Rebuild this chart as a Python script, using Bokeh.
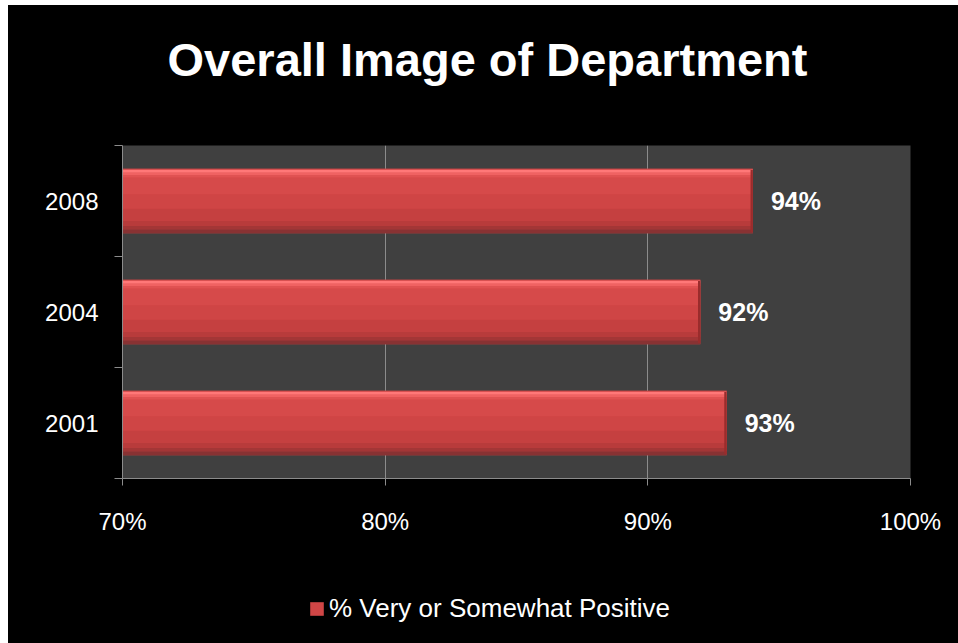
from bokeh.plotting import figure
from bokeh.layouts import column
from bokeh.models import (Range1d, FixedTicker, PrintfTickFormatter, Title, Legend,
                          LegendItem, ColumnDataSource, LabelSet)
from bokeh.core.properties import value
from bokeh.embed import file_html
from bokeh.resources import INLINE
import numpy as np

years = ["2001", "2004", "2008"]
values = [93, 92, 94]
x_ticks = [70, 80, 90, 100]
series_name = "% Very or Somewhat Positive"
title_text = "Overall Image of Department"

FONT = "Liberation Sans"
pos = np.arange(len(years)) + 0.5
BAR_H = 0.58

p = figure(width=950, height=560, output_backend="svg", toolbar_location=None,
           x_range=Range1d(70, 100), y_range=Range1d(0, len(years)),
           min_border_left=114, min_border_right=48, min_border_top=140,
           min_border_bottom=87)
p.background_fill_color = "#404040"
p.border_fill_color = "black"
p.outline_line_color = None

# base bar, then gradient-like bands on top (fractions of bar height, top -> bottom)
base_src = ColumnDataSource(dict(y=pos, right=values))
p.hbar(y="y", left=70, right="right", height=BAR_H, source=base_src,
       fill_color="#cf4545", line_color=None)
bands = [
    (0.000, 0.016, "#c84545"),
    (0.016, 0.060, "#ff7878"),
    (0.060, 0.095, "#f06262"),
    (0.095, 0.140, "#e05252"),
    (0.140, 0.400, "#d64a4a"),
    (0.400, 0.620, "#cf4545"),
    (0.620, 0.810, "#c54040"),
    (0.810, 0.890, "#b83b3b"),
    (0.890, 0.940, "#a33636"),
    (0.940, 1.000, "#883233"),
]
for a, b, c in bands:
    src = ColumnDataSource(dict(y=pos + BAR_H * (0.5 - (a + b) / 2), right=values))
    p.hbar(y="y", left=70, right="right", height=BAR_H * (b - a), source=src,
           fill_color=c, line_color=None)
# darker right end
src_end = ColumnDataSource(dict(y=pos, right=values, left=[v - 0.09 for v in values]))
p.hbar(y="y", left="left", right="right", height=BAR_H * 0.96, source=src_end,
       fill_color="#9a2c2c", line_color=None)

# value labels
lab_src = ColumnDataSource(dict(x=values, y=pos, t=[f"{v}%" for v in values]))
p.add_layout(LabelSet(x="x", y="y", text="t", source=lab_src, x_offset=18,
                      text_baseline="middle", text_color="white",
                      text_font=value(FONT), text_font_size="25px",
                      text_font_style="bold"))

# x axis
xa = p.xaxis[0]
xa.ticker = FixedTicker(ticks=x_ticks)
xa.formatter = PrintfTickFormatter(format="%d%%")
xa.axis_line_color = "#8c8c8c"
xa.major_tick_line_color = "#8c8c8c"
xa.major_tick_out = 7
xa.major_tick_in = 0
xa.minor_tick_line_color = None
xa.major_label_text_color = "white"
xa.major_label_text_font = FONT
xa.major_label_text_font_size = "24px"
xa.major_label_standoff = 22

# y axis
ya = p.yaxis[0]
ya.ticker = FixedTicker(ticks=list(pos), minor_ticks=list(range(len(years) + 1)))
ya.major_label_overrides = {float(v): y for v, y in zip(pos, years)}
ya.axis_line_color = "#8c8c8c"
ya.major_tick_line_color = None
ya.major_tick_out = 0
ya.major_tick_in = 0
ya.minor_tick_line_color = "#8c8c8c"
ya.minor_tick_out = 8
ya.minor_tick_in = 0
ya.major_label_text_color = "white"
ya.major_label_text_font = FONT
ya.major_label_text_font_size = "24px"
ya.major_label_standoff = 16

p.xgrid.grid_line_color = "#8c8c8c"
p.xgrid.ticker = FixedTicker(ticks=x_ticks)
p.ygrid.grid_line_color = None

p.add_layout(Title(text=title_text, align="left", offset=45, text_color="white",
                   text_font=FONT, text_font_size="47px", text_font_style="bold",
                   standoff=0, padding=dict(top=0, right=0, bottom=60, left=0)),
             "above")

# legend strip below the chart
p2 = figure(width=950, height=78, output_backend="svg", toolbar_location=None,
            x_range=Range1d(1000, 1950), y_range=Range1d(100, 178),
            x_axis_location=None, y_axis_location=None,
            min_border=0)
p2.background_fill_color = "black"
p2.border_fill_color = "black"
p2.outline_line_color = None
p2.xgrid.grid_line_color = None
p2.ygrid.grid_line_color = None
p2.grid.visible = False
leg_r = p2.hbar(y="y", left=70, right="right", height=BAR_H, source=base_src,
                fill_color="#d04646", line_color=None)
legend = Legend(items=[LegendItem(label=series_name, renderers=[leg_r])],
                location=(186, 19), background_fill_alpha=0, border_line_color=None,
                label_text_color="white", label_text_font=FONT,
                label_text_font_size="26px", glyph_width=17, glyph_height=17,
                padding=0, margin=0, label_standoff=4)
p2.add_layout(legend, "center")

layout = column(p, p2, spacing=0, styles={"background-color": "black"})
layout.margin = (5, 0, 0, 8)
open("out.html", "w").write(file_html(layout, INLINE))
